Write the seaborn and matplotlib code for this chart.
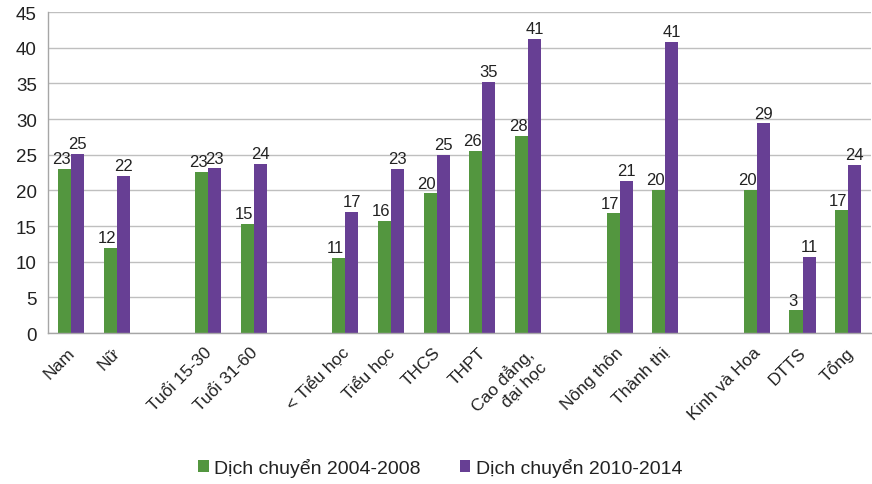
import numpy as np
import pandas as pd
import matplotlib
matplotlib.use("Agg")
import matplotlib.pyplot as plt
import matplotlib.transforms as mtransforms
import seaborn as sns
from matplotlib.ticker import FixedLocator

categories = ["Nam", "Nữ", " ", "Tuổi 15-30", "Tuổi 31-60", "  ",
              "< Tiểu học", "Tiểu học", "THCS", "THPT", "Cao đẳng,\nđại học", "   ",
              "Nông thôn", "Thành thị", "    ",
              "Kinh và Hoa", "DTTS", "Tổng"]
series_names = ["Dịch chuyển 2004-2008", "Dịch chuyển 2010-2014"]
vals_2004_2008 = [23.0, 11.9, np.nan, 22.6, 15.3, np.nan,
                  10.6, 15.7, 19.6, 25.6, 27.7, np.nan,
                  16.8, 20.1, np.nan,
                  20.1, 3.2, 17.2]
vals_2010_2014 = [25.1, 22.0, np.nan, 23.1, 23.7, np.nan,
                  17.0, 23.0, 25.0, 35.2, 41.2, np.nan,
                  21.3, 40.8, np.nan,
                  29.4, 10.7, 23.6]
yticks = [0, 5, 10, 15, 20, 25, 30, 35, 40, 45]
colors = ["#53963F", "#673F94"]

df = pd.DataFrame({
    "cat": categories * 2,
    "series": [series_names[0]] * len(categories) + [series_names[1]] * len(categories),
    "val": vals_2004_2008 + vals_2010_2014,
})

sns.set_style("white")
plt.rcParams["font.family"] = ["Liberation Sans", "DejaVu Sans"]
narrow = ["Liberation Sans Narrow", "Liberation Sans"]

fig = plt.figure(figsize=(8.72, 4.85), dpi=100)
ax = fig.add_axes([0.055, 0.311, 0.944, 0.662])

sns.barplot(data=df, x="cat", y="val", hue="series", order=categories,
            hue_order=series_names, palette=colors, width=0.57,
            saturation=1, errorbar=None, ax=ax, linewidth=0)

for i, cont in enumerate(ax.containers):
    anns = ax.bar_label(cont, fmt="%.0f", padding=2, fontsize=12,
                        family=narrow, color="#222222")
    if i == 0:
        for a in anns:
            a.xyann = (-2.4, 2)

ax.set_ylim(0, 45)
ax.set_xlim(-0.5, len(categories) - 0.5)
ax.set_yticks(yticks)
ax.yaxis.grid(True, color="#BFBFBF", linewidth=1)
ax.set_axisbelow(True)
ax.set_xlabel("")
ax.set_ylabel("")

for s in ["top", "right"]:
    ax.spines[s].set_visible(False)
for s in ["left", "bottom"]:
    ax.spines[s].set_color("#A6A6A6")
    ax.spines[s].set_linewidth(1)

ax.tick_params(axis="y", length=5, color="#A6A6A6", labelsize=13.5, labelcolor="#222222", pad=3)
for lab in ax.get_yticklabels():
    lab.set_family(narrow)

ax.set_xticks(range(len(categories)))
ax.set_xticklabels(categories, rotation=45, ha="right", rotation_mode="anchor",
                   fontsize=12.5, color="#222222")
ax.tick_params(axis="x", which="major", length=0, pad=8)
offset = mtransforms.ScaledTranslation(-4 / 100, 0, fig.dpi_scale_trans)
for lab in ax.get_xticklabels():
    lab.set_transform(lab.get_transform() + offset)
ax.xaxis.set_minor_locator(FixedLocator(np.arange(-0.5, len(categories), 1.0)))
ax.tick_params(axis="x", which="minor", length=5, color="#A6A6A6", width=1)

leg = ax.legend(loc="lower center", bbox_to_anchor=(0.505, -0.022), bbox_transform=fig.transFigure,
                ncol=2, frameon=False, fontsize=14, handlelength=0.55, handleheight=0.55,
                handletextpad=0.3, columnspacing=2.0)
for t in leg.get_texts():
    t.set_color("#222222")

fig.savefig("out.png", dpi=100)
